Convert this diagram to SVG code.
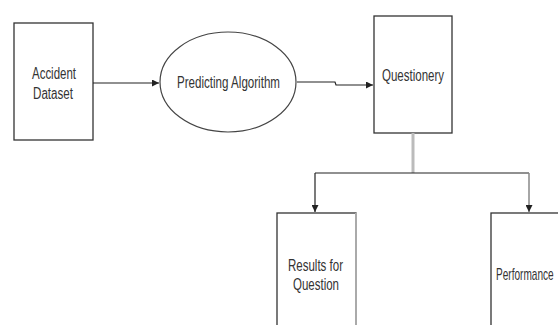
<svg xmlns="http://www.w3.org/2000/svg" width="558" height="325" viewBox="0 0 558 325">
<style>
.box{fill:#fff;stroke:#333;stroke-width:1.3}
.t{font-family:"Liberation Sans",Arial,sans-serif;font-size:16px;fill:#333}
.c{fill:none;stroke:#222;stroke-width:1.2}
</style>
<defs>
<marker id="ah" viewBox="0 0 10 10" refX="10" refY="5" markerWidth="7" markerHeight="7" orient="auto" markerUnits="userSpaceOnUse">
<path d="M0,0 L10,5 L0,10 z" fill="#222"/>
</marker>
</defs>
<rect width="558" height="325" fill="#fff"/>
<g id="accident-dataset">
<rect class="box" x="14" y="23" width="79" height="117"/>
<text class="t" x="32" y="79" textLength="44" lengthAdjust="spacingAndGlyphs">Accident</text>
<text class="t" x="33" y="99" textLength="40" lengthAdjust="spacingAndGlyphs">Dataset</text>
</g>
<g id="predicting-algorithm">
<ellipse cx="228" cy="82" rx="68" ry="50" fill="#fff" stroke="#444" stroke-width="1.2"/>
<text class="t" x="177" y="88" textLength="103" lengthAdjust="spacingAndGlyphs">Predicting Algorithm</text>
</g>
<g id="questionery">
<rect class="box" x="374" y="16" width="78" height="117"/>
<text class="t" x="382" y="81" textLength="62" lengthAdjust="spacingAndGlyphs">Questionery</text>
</g>
<g id="results-for-question">
<rect class="box" x="277" y="213" width="79" height="130"/>
<line x1="356" y1="213" x2="356" y2="325" stroke="#aaa" stroke-width="2"/>
<text class="t" x="288" y="271" textLength="55" lengthAdjust="spacingAndGlyphs">Results for</text>
<text class="t" x="293" y="290" textLength="46" lengthAdjust="spacingAndGlyphs">Question</text>
</g>
<g id="performance">
<rect class="box" x="491" y="213" width="90" height="130"/>
<text class="t" transform="translate(496,280) scale(0.63,1)" x="0" y="0">Performance</text>
</g>
<g id="connectors">
<path class="c" d="M93,83 L159,83" marker-end="url(#ah)"/>
<path class="c" d="M297,82 L335,82 L336,85 L373,85" marker-end="url(#ah)"/>
<line x1="413" y1="133" x2="413" y2="173" stroke="#bbb" stroke-width="3"/>
<path class="c" d="M315,173 L529,173"/>
<path class="c" d="M315,173 L315,212" marker-end="url(#ah)"/>
<path fill="none" stroke="#888" stroke-width="1.5" d="M529,173 L529,212" marker-end="url(#ah)"/>
</g>
</svg>
